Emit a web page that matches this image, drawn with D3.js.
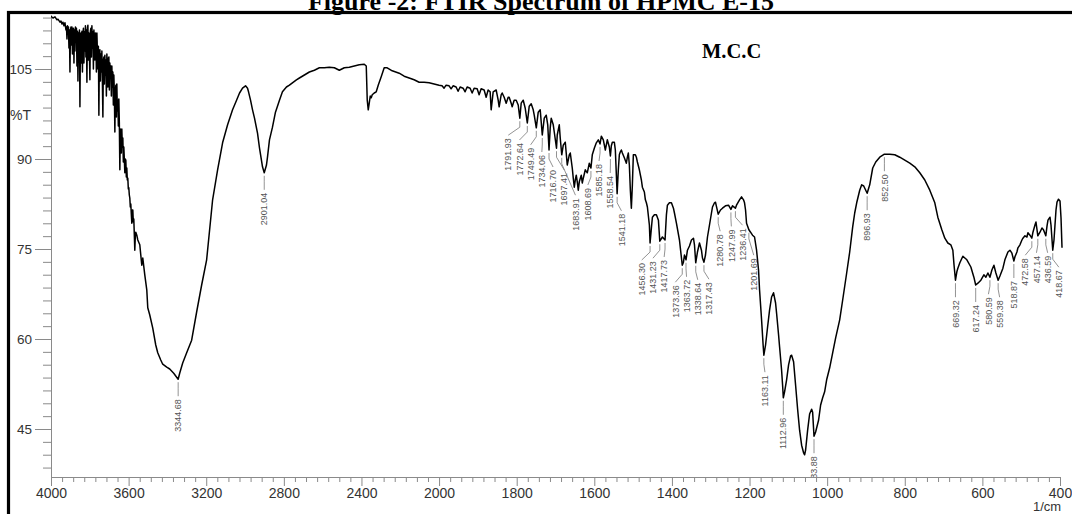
<!DOCTYPE html>
<html>
<head>
<meta charset="utf-8">
<script src="https://cdn.jsdelivr.net/npm/d3@7"></script>
<style>
  body { margin: 0; background: #fff; }
  svg { display: block; }
</style>
</head>
<body>
<svg id="chart" width="1072" height="514"></svg>
<script>
// FTIR spectrum of M.C.C — wavenumber (1/cm) vs transmittance (%T)

// 4000–3560 1/cm: noisy high-wavenumber edge (atmospheric water)
const regionEdge = [
  [4000,113.8],[3989.7,113.5],[3979.4,113.7],[3969.2,113.2],[3964.0,113.3],[3953.7,112.8],[3948.6,113.0],
  [3943.4,112.5],[3938.3,112.8],[3933.2,112.2],[3928.0,112.7],
  [3922.9,111.5],[3920.3,112.0],[3917.7,110.0],[3915.2,112.2],[3912.6,111.0],[3910.0,112.0],[3907.5,108.5],
  [3904.9,111.5],[3902.3,104.5],[3899.7,111.5],[3897.2,112.0],[3894.6,109.0],[3892.0,112.0],[3889.5,107.5],
  [3886.9,110.8],[3884.3,111.8],[3881.7,106.0],[3879.2,111.5],[3876.6,108.0],[3874.0,112.0],[3871.5,110.0],
  [3868.9,111.8],[3866.3,105.5],[3863.7,111.3],[3861.2,103.0],[3858.6,111.0],[3856.0,109.0],[3853.5,111.5],
  [3850.9,98.7],[3848.3,110.0],[3845.8,111.0],[3843.2,106.0],[3840.6,111.3],[3838.0,104.5],[3835.5,110.8],
  [3832.9,111.8],[3830.3,106.0],[3827.8,111.2],[3825.2,108.0],[3822.6,112.2],[3820.1,107.0],[3817.5,111.5],
  [3814.9,102.8],[3812.3,111.8],[3809.8,112.3],[3807.2,106.5],[3804.6,111.0],[3802.1,108.0],[3799.5,103.2],
  [3796.9,111.3],[3794.3,111.8],[3791.8,107.0],[3789.2,112.2],[3786.6,108.5],[3784.1,111.2],[3781.5,105.0],
  [3778.9,111.5],[3776.3,109.0],[3773.8,106.5],[3771.2,111.0],[3768.6,110.0],[3766.1,104.5],[3763.5,111.0],
  [3760.9,108.0],[3758.4,105.0],[3755.8,108.8],[3753.2,97.3],[3750.6,107.8],[3748.1,108.2],[3745.5,103.0],
  [3742.9,107.5],[3740.4,104.5],[3737.8,108.0],[3735.2,103.0],[3732.6,97.0],[3730.1,106.5],[3727.5,107.0],
  [3724.9,102.5],[3722.4,107.3],[3719.8,104.0],[3717.2,106.5],[3714.6,100.5],[3712.1,107.5],[3709.5,105.0],
  [3706.9,102.0],[3704.4,106.8],[3701.8,107.0],[3699.2,101.5],[3696.7,106.0],[3694.1,103.5],[3691.5,105.5],
  [3688.9,100.5],[3686.4,105.5],[3683.8,102.0],[3681.2,104.5],[3678.7,99.0],[3676.1,104.0],[3673.5,101.0],
  [3670.9,94.5],[3668.4,101.0],[3665.8,102.3],[3663.2,97.0],[3660.7,102.5],[3658.1,98.0],[3655.5,99.8],
  [3652.9,95.5],[3650.4,100.0],[3647.8,96.0],[3645.2,88.2],[3642.7,95.0],[3640.1,94.5],[3637.5,91.0],
  [3635.0,95.0],[3632.4,92.0],[3629.8,93.5],[3627.2,89.5],[3624.7,92.0],[3622.1,90.0],[3619.5,87.7],
  [3617.0,90.0],[3614.4,89.8],[3611.8,87.0],[3609.3,88.5],[3606.7,86.5],[3604.1,86.8],[3601.5,85.0],
  [3599.0,85.2],[3596.4,84.0],[3593.8,83.5],[3591.3,82.0],[3588.7,82.5],[3586.1,80.8],[3583.5,79.3],
  [3581.0,81.5],[3578.4,81.5],[3575.8,79.5],[3573.3,80.0],[3570.7,77.5],[3568.1,74.8],[3565.6,77.0],
  [3563.0,77.8]
];

// 3560–2000 1/cm: O–H stretch band, C–H stretch and CO2 doublet
const regionHigh = [
  [3557.8,77.3],[3552.7,76.5],[3542.4,75.7],[3532.1,72.3],[3527.0,73.5],[3516.7,70.7],[3506.4,68.2],
  [3501.3,65.2],[3491.0,64.0],[3475.6,61.8],[3460.2,59.0],[3449.9,57.7],[3434.4,56.5],[3424.2,55.8],
  [3403.6,55.3],[3388.2,55.0],[3367.6,54.3],[3344.68,53.3],[3336.8,54.3],[3321.3,56.0],[3300.8,57.7],
  [3275.1,59.8],[3249.4,64.5],[3223.6,69.0],[3197.9,73.2],[3167.1,83.2],[3141.4,88.2],[3115.7,92.7],
  [3089.9,95.7],[3064.3,98.2],[3043.7,99.8],[3028.3,101.0],[3012.9,101.8],[2997.4,102.2],[2987.1,101.8],
  [2982.0,101.2],[2971.7,99.8],[2961.4,98.2],[2951.2,96.8],[2935.7,94.3],[2925.4,91.8],[2910.0,88.7],
  [2901.04,87.7],[2889.5,89.0],[2884.3,90.3],[2874.1,93.2],[2858.6,95.3],[2843.2,97.8],[2822.6,99.8],
  [2807.2,101.2],[2786.6,102.0],[2771.2,102.3],[2755.8,102.7],[2735.2,103.2],[2719.8,103.5],[2694.1,104.0],
  [2668.4,104.5],[2642.7,104.8],[2616.9,105.2],[2591.3,105.2],[2565.5,105.3],[2539.8,105.2],[2514.1,104.8],
  [2488.4,105.2],[2462.7,105.3],[2437.0,105.5],[2411.3,105.7],[2385.6,105.8],[2375.3,105.5],[2370.2,99.8],
  [2365.0,98.2],[2359.9,99.3],[2354.7,100.5],[2349.6,100.2],[2344.5,100.7],[2334.2,101.0],[2323.9,101.2],
  [2313.6,102.3],[2298.2,103.7],[2282.8,105.2],[2267.3,105.2],[2241.6,104.7],[2205.6,104.3],[2179.9,103.8],
  [2154.2,103.5],[2128.5,103.2],[2102.8,102.8],[2077.1,102.8],[2051.4,102.7],[2025.7,102.5],[2000,102.3]
];

// 2000–1200 1/cm: overtone and bending region
const regionMid = [
  [1992.3,102.2],[1987.1,101.8],[1981.9,102.3],[1974.2,102.2],[1969.0,101.7],[1963.9,102.2],[1956.1,102.0],
  [1951.0,101.3],[1945.8,102.0],[1938.1,101.8],[1932.9,101.2],[1927.7,102.0],[1920.0,101.8],[1914.8,101.0],
  [1909.7,101.8],[1901.9,101.7],[1896.8,100.7],[1891.6,101.7],[1883.9,101.5],[1878.7,100.3],[1873.6,101.5],
  [1868.4,101.2],[1865.8,98.2],[1860.6,101.2],[1852.9,101.5],[1847.7,99.8],[1845.2,98.7],[1840.0,100.7],
  [1837.4,101.0],[1832.3,100.3],[1827.1,99.3],[1821.9,100.3],[1819.4,100.3],[1814.2,99.3],[1811.6,98.7],
  [1806.5,99.8],[1801.3,99.8],[1796.1,99.0],[1791.93,96.8],[1788.4,99.3],[1783.2,99.8],[1778.1,98.5],
  [1772.64,96.0],[1767.7,98.8],[1762.6,99.2],[1757.4,98.2],[1754.8,97.3],[1749.49,95.2],[1744.5,97.8],
  [1739.4,98.2],[1734.06,94.0],[1729.0,96.8],[1723.9,97.3],[1720.0,95.7],[1716.70,91.5],[1713.6,95.2],
  [1711.0,96.8],[1705.8,95.7],[1703.2,94.5],[1697.41,91.8],[1695.5,94.0],[1690.3,95.7],[1687.8,93.5],
  [1683.91,90.7],[1680.0,92.3],[1674.8,92.8],[1669.7,89.0],[1664.5,90.7],[1661.9,91.0],[1656.8,88.5],
  [1654.2,86.8],[1651.6,85.3],[1649.0,86.5],[1646.5,87.3],[1643.9,86.2],[1641.3,84.8],[1638.7,86.2],
  [1633.6,87.3],[1631.0,86.0],[1628.4,86.8],[1623.2,88.2],[1618.1,87.7],[1612.9,89.3],[1608.69,88.5],
  [1605.2,90.7],[1600.0,91.8],[1594.8,92.7],[1589.7,93.2],[1585.18,92.5],[1581.9,93.8],[1576.8,93.2],
  [1571.6,91.5],[1566.5,93.2],[1561.3,92.0],[1558.54,90.5],[1556.1,92.2],[1553.5,92.8],[1548.4,92.8],
  [1545.8,91.5],[1541.18,84.2],[1538.1,88.2],[1535.5,90.7],[1532.9,91.2],[1530.3,91.5],[1527.7,91.0],
  [1522.6,90.2],[1517.4,89.3],[1514.8,90.3],[1512.3,91.0],[1509.7,89.0],[1507.1,84.8],[1504.5,81.8],
  [1501.9,85.7],[1499.4,90.7],[1494.2,90.7],[1491.6,90.3],[1489.0,89.5],[1483.9,88.2],[1478.7,86.5],
  [1476.1,85.3],[1471.0,84.5],[1468.4,83.2],[1465.8,82.7],[1463.2,82.0],[1458.1,79.0],[1456.30,76.0],
  [1452.9,78.5],[1450.3,80.3],[1445.2,80.7],[1440.0,80.7],[1434.8,79.8],[1431.23,76.3],[1424.5,77.0],
  [1417.73,76.5],[1414.2,80.7],[1411.6,82.3],[1406.5,82.7],[1401.3,82.7],[1396.1,81.8],[1393.5,81.0],
  [1388.4,79.3],[1380.6,76.5],[1373.36,72.3],[1370.3,72.8],[1367.7,74.0],[1363.72,73.2],[1360.0,74.8],
  [1354.8,75.5],[1349.7,76.5],[1344.5,76.8],[1341.9,75.7],[1338.64,72.7],[1334.2,74.5],[1329.0,76.0],
  [1323.9,74.8],[1321.3,73.5],[1317.43,72.8],[1313.5,74.0],[1308.4,77.0],[1303.2,79.0],[1298.1,81.0],
  [1295.5,82.0],[1290.3,82.7],[1287.8,82.8],[1280.78,80.8],[1274.8,81.5],[1269.7,81.8],[1262.0,82.2],
  [1254.2,82.3],[1247.99,81.6],[1243.9,82.2],[1236.41,81.8],[1233.6,82.3],[1225.8,83.2],[1220.6,83.7],
  [1215.5,83.2],[1212.9,82.7],[1210.3,81.5],[1207.7,79.3],[1201.69,78.2]
];

// 1200–395 1/cm: C–O stretch and fingerprint region
const regionLow = [
  [1197.4,77.8],[1192.3,77.3],[1187.1,77.0],[1181.9,74.8],[1176.8,71.5],[1174.2,68.2],[1169.0,63.2],
  [1165.0,59.0],[1163.11,57.3],[1158.7,59.0],[1153.5,62.0],[1148.4,64.8],[1143.2,67.0],[1138.1,67.7],
  [1132.9,66.0],[1130.3,64.3],[1125.2,60.7],[1122.6,58.7],[1117.4,54.8],[1114.8,52.3],[1112.96,50.2],
  [1109.7,51.2],[1104.5,53.2],[1099.4,55.7],[1094.2,57.2],[1091.6,57.3],[1086.5,56.2],[1081.3,52.3],
  [1076.1,48.3],[1071.0,44.8],[1065.8,42.3],[1060.6,41.0],[1058.1,40.7],[1055.5,41.5],[1050.3,44.8],
  [1045.2,47.5],[1040.0,48.3],[1037.4,47.8],[1033.88,43.8],[1029.7,44.5],[1022.0,46.5],[1016.8,49.0],
  [1011.6,50.2],[1006.5,51.2],[1001.3,53.2],[993.5,55.2],[985.8,57.7],[978.1,60.2],[967.7,63.2],
  [960.0,66.5],[949.7,71.0],[941.9,74.5],[934.2,78.7],[929.0,81.0],[923.9,82.7],[916.1,84.8],
  [911.0,85.7],[905.8,85.5],[900.6,84.8],[896.93,84.3],[890.3,85.7],[882.6,88.5],[874.8,89.5],
  [864.5,90.3],[852.50,90.8],[838.7,90.8],[825.8,90.7],[812.9,90.3],[800.0,89.8],[787.1,89.3],
  [774.2,88.7],[761.3,87.7],[748.4,86.5],[735.5,84.8],[722.6,82.7],[714.8,80.3],[704.5,78.2],
  [696.8,76.8],[689.0,76.0],[681.3,75.7],[676.1,74.8],[673.0,72.3],[669.32,69.8],[665.8,71.2],
  [663.2,71.8],[658.1,72.7],[650.3,73.8],[640.0,73.2],[629.7,72.0],[621.9,70.3],[617.24,69.0],
  [611.6,69.3],[603.9,69.8],[596.1,70.7],[591.0,70.3],[585.8,71.0],[580.59,70.3],[575.5,71.5],
  [570.3,72.3],[565.2,71.0],[559.38,69.8],[554.8,70.5],[547.1,71.8],[542.0,73.2],[534.2,74.5],
  [529.0,74.8],[523.9,74.3],[518.87,73.0],[516.1,73.7],[511.0,74.5],[508.4,75.2],[503.2,75.7],
  [498.1,76.5],[495.5,76.8],[490.3,77.2],[485.2,77.0],[482.6,77.7],[477.4,77.3],[472.58,76.8],
  [469.7,77.8],[464.5,79.0],[461.9,79.5],[457.14,77.2],[451.6,77.8],[446.5,78.5],[442.6,78.2],
  [436.59,77.2],[433.5,78.8],[431.0,79.8],[425.8,80.3],[423.2,79.0],[418.67,74.8],[415.5,76.5],
  [412.9,79.0],[410.3,81.5],[407.7,82.8],[403.9,83.3],[400.0,83.0],[397.4,80.2],[394.8,75.2]
];

// Peak-pick annotations (1/cm)
const peakLabels = [
  "3344.68","2901.04",
  "1791.93","1772.64","1749.49","1734.06","1716.70","1697.41","1683.91",
  "1608.69","1585.18","1558.54","1541.18",
  "1456.30","1431.23","1417.73","1373.36","1363.72","1338.64","1317.43",
  "1280.78","1247.99","1236.41","1201.69","1163.11","1112.96","1033.88",
  "896.93","852.50",
  "669.32","617.24","580.59","559.38","518.87","472.58","457.14","436.59","418.67"
];

const xTickLabels = [4000, 3600, 3200, 2800, 2400, 2000, 1800, 1600, 1400, 1200, 1000, 800, 600, 400];
const yTickLabels = [45, 60, 75, 90, 105];

const titleText = "Figure -2: FTIR Spectrum of HPMC E-15";
const sampleName = "M.C.C";
const yAxisName = "%T";
const xAxisUnit = "1/cm";

// ---------------------------------------------------------------------------
const spectrum = regionEdge.concat(regionHigh, regionMid, regionLow);

const svg = d3.select("#chart");
const plot = { left: 51, right: 1060, top: 15, bottom: 477 };

// The 4000–2000 range is drawn at half the scale of 2000–400, as on the instrument printout.
const split = plot.left + (plot.right - plot.left) * 2000 / 5200;
const x = d3.scaleLinear().domain([4000, 2000, 400]).range([plot.left, split, plot.right]);
const y = d3.scaleLinear().domain([37, 114]).range([plot.bottom, plot.top]);

const axisColor = "#8a8a8a";
const sans = "'Liberation Sans', Arial, Helvetica, sans-serif";
const serif = "'Liberation Serif', 'Times New Roman', Times, serif";

// Outer frame with the heading above it
svg.append("text")
  .attr("x", 541).attr("y", 10)
  .attr("text-anchor", "middle")
  .style("font-family", serif).style("font-weight", "bold").style("font-size", "26px")
  .text(titleText);

svg.append("rect")
  .attr("x", 8.5).attr("y", 12.5).attr("width", 1100).attr("height", 600)
  .attr("fill", "none").attr("stroke", "#000").attr("stroke-width", 3.2);

// Minor ticks: each labelled interval split in seven
const xMinor = [];
for (let i = 0; i < xTickLabels.length - 1; i++) {
  const a = xTickLabels[i], b = xTickLabels[i + 1];
  for (let k = 1; k < 7; k++) xMinor.push(a + (b - a) * k / 7);
}
const yStep = (yTickLabels[1] - yTickLabels[0]) / 7;
const yMinor = [];
for (let v = yTickLabels[0]; v >= y.domain()[0]; v -= yStep) yMinor.push(v);
for (let v = yTickLabels[0]; v <= y.domain()[1]; v += yStep) yMinor.push(v);

function styleAxis(g) {
  g.select(".domain").attr("stroke", axisColor);
  g.selectAll(".tick line").attr("stroke", axisColor);
  g.selectAll(".tick text").attr("fill", "#333").style("font-family", sans);
}

svg.append("g").attr("transform", `translate(0,${plot.bottom})`)
  .call(d3.axisBottom(x).tickValues(xMinor).tickSize(5).tickSizeOuter(0).tickFormat(""))
  .call(styleAxis);
svg.append("g").attr("transform", `translate(0,${plot.bottom})`)
  .call(d3.axisBottom(x).tickValues(xTickLabels).tickSize(9).tickPadding(2).tickSizeOuter(0).tickFormat(d3.format("d")))
  .call(styleAxis)
  .call(g => g.selectAll(".tick text").style("font-size", "14px"));

svg.append("g").attr("transform", `translate(${plot.left},0)`)
  .call(d3.axisLeft(y).tickValues(yMinor).tickSize(8).tickSizeOuter(0).tickFormat(""))
  .call(styleAxis);
svg.append("g").attr("transform", `translate(${plot.left},0)`)
  .call(d3.axisLeft(y).tickValues(yTickLabels).tickSize(16).tickPadding(3).tickSizeOuter(0).tickFormat(d3.format("d")))
  .call(styleAxis)
  .call(g => g.selectAll(".tick text").style("font-size", "13.5px"));

svg.append("text")
  .attr("x", 10).attr("y", y(97.4)).attr("dy", "0.35em")
  .style("font-family", sans).style("font-size", "14px").attr("fill", "#333")
  .text(yAxisName);

svg.append("text")
  .attr("x", 1047).attr("y", 511).attr("text-anchor", "middle")
  .style("font-family", sans).style("font-size", "13px").attr("fill", "#333")
  .text(xAxisUnit);

svg.append("text")
  .attr("x", 702).attr("y", 58)
  .style("font-family", serif).style("font-weight", "bold").style("font-size", "20.5px")
  .text(sampleName);

// Plot area clip for the trace and its annotations
svg.append("clipPath").attr("id", "plotClip")
  .append("rect")
  .attr("x", plot.left).attr("y", plot.top)
  .attr("width", plot.right + 4 - plot.left).attr("height", plot.bottom - plot.top);

const layer = svg.append("g").attr("clip-path", "url(#plotClip)");

// Spectrum trace
const line = d3.line().x(d => x(d[0])).y(d => y(d[1]));
layer.append("path")
  .datum(spectrum)
  .attr("d", line)
  .attr("fill", "none")
  .attr("stroke", "#000")
  .attr("stroke-width", 1.5)
  .attr("stroke-linejoin", "round");

// Peak annotations: each label sits under its band; crowded labels are spread side by side
function valueAt(wn) {
  let best = spectrum[0];
  for (const d of spectrum) if (Math.abs(d[0] - wn) < Math.abs(best[0] - wn)) best = d;
  return best[1];
}
// lowest point of the trace (largest screen y) within a pixel column band
function lowestY(x0, x1) {
  let m = -Infinity;
  for (const d of spectrum) {
    const px = x(d[0]);
    if (px >= x0 && px <= x1) m = Math.max(m, y(d[1]));
  }
  return m;
}

const gap = 11.2;
const peaks = peakLabels
  .map(s => { const wn = +s; return { s, wn, px: x(wn), cy: y(valueAt(wn)) }; })
  .sort((a, b) => a.px - b.px);

const groups = [];
const centre = g => d3.mean(g, d => d.px);
peaks.forEach(p => {
  groups.push([p]);
  while (groups.length > 1) {
    const b = groups[groups.length - 1], a = groups[groups.length - 2];
    const aEnd = centre(a) + (a.length - 1) / 2 * gap;
    const bStart = centre(b) - (b.length - 1) / 2 * gap;
    if (bStart - aEnd < gap) groups.splice(-2, 2, a.concat(b));
    else break;
  }
});
groups.forEach(g => {
  const c = centre(g);
  g.forEach((p, i) => {
    p.lx = c + (i - (g.length - 1) / 2) * gap;
    // keep the text clear of the trace above it
    p.top = Math.max(p.cy + 20, lowestY(p.lx - 4, p.lx + 4) + 8);
  });
});

const ann = layer.append("g").selectAll("g").data(peaks).join("g");
ann.append("path")
  .attr("d", p => `M${p.px},${p.cy + 3}L${p.px},${p.cy + 9}L${p.lx},${p.top - 3}`)
  .attr("fill", "none").attr("stroke", "#777").attr("stroke-width", 0.8);
ann.append("text")
  .attr("transform", p => `translate(${p.lx},${p.top}) rotate(-90)`)
  .attr("text-anchor", "end")
  .attr("dy", "0.35em")
  .style("font-family", sans).style("font-size", "9px")
  .attr("fill", "#555")
  .text(p => p.s);
</script>
</body>
</html>
